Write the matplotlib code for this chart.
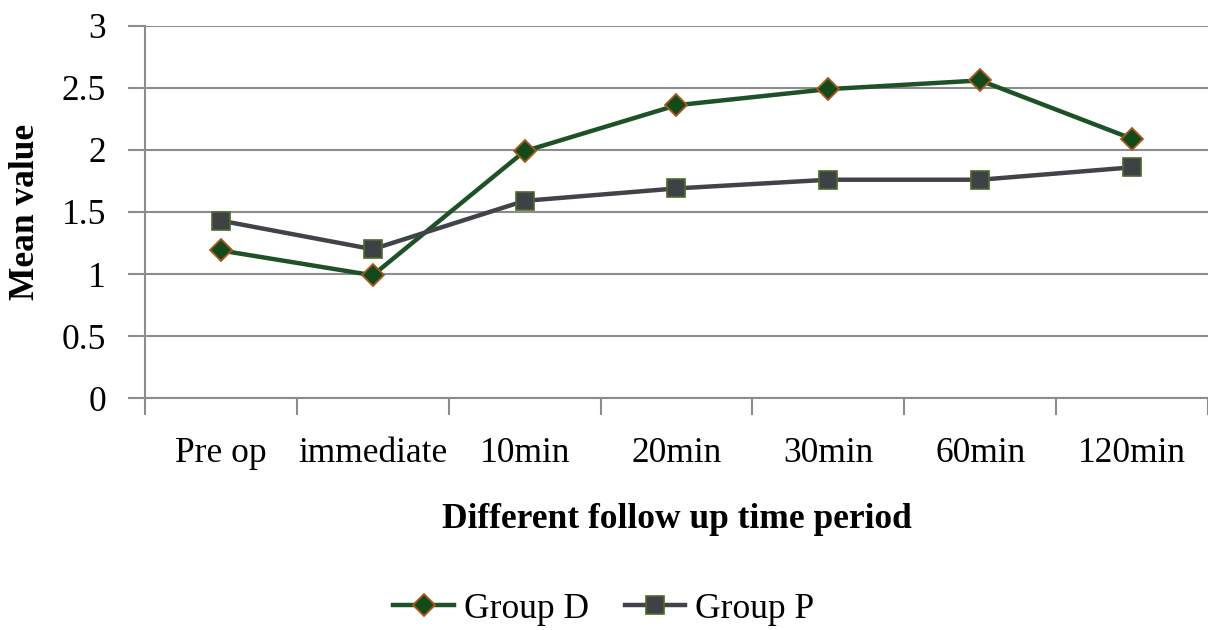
import matplotlib
matplotlib.use("Agg")
import matplotlib.pyplot as plt
from matplotlib.ticker import FixedLocator, NullFormatter

categories = ["Pre op", "immediate", "10min", "20min", "30min", "60min", "120min"]
group_d = [1.19, 0.99, 1.99, 2.36, 2.49, 2.56, 2.09]
group_p = [1.43, 1.20, 1.59, 1.69, 1.76, 1.76, 1.86]
yticks = [0, 0.5, 1, 1.5, 2, 2.5, 3]
ytick_labels = ["0", "0.5", "1", "1.5", "2", "2.5", "3"]

plt.rcParams['font.family'] = ['Liberation Serif', 'DejaVu Serif']
FS = 25.5

fig = plt.figure(figsize=(12.08, 6.30), dpi=100)
ax = fig.add_axes([0.12, 0.368, 0.880, 0.591])

x = list(range(len(categories)))
gray = "#8c8c8c"

ax.plot(x, group_d, color="#1d5226", lw=3.2, marker="D", markersize=11,
        markerfacecolor="#124a1c", markeredgecolor="#a8581c", markeredgewidth=1.3,
        label="Group D", zorder=3)
ax.plot(x, group_p, color="#404347", lw=3.2, marker="s", markersize=13,
        markerfacecolor="#3e4146", markeredgecolor="#4f6a2a", markeredgewidth=1.2,
        label="Group P", zorder=3)

ax.set_xlim(-0.5, len(categories) - 0.5)
ax.set_ylim(0, 3)
ax.set_yticks(yticks)
ax.set_yticklabels(ytick_labels, fontsize=FS)
ax.yaxis.grid(True, color=gray, lw=1.5)
ax.set_axisbelow(True)

ax.xaxis.set_major_locator(FixedLocator([i - 0.5 for i in range(len(categories) + 1)]))
ax.xaxis.set_major_formatter(NullFormatter())
ax.xaxis.set_minor_locator(FixedLocator(x))
ax.set_xticklabels(categories, minor=True, fontsize=FS)
ax.tick_params(axis='x', which='minor', length=0, pad=28)
ax.tick_params(axis='x', which='major', length=12, color=gray, width=1.5, direction='out')
ax.tick_params(axis='y', length=12, color=gray, width=1.5, direction='out', pad=16)

for s in ["top", "right"]:
    ax.spines[s].set_visible(False)
for s in ["left", "bottom"]:
    ax.spines[s].set_color(gray)
    ax.spines[s].set_linewidth(1.5)

ax.set_ylabel("Mean value", fontsize=FS, fontweight='bold', labelpad=14)
ax.set_xlabel("Different follow up time period", fontsize=FS, fontweight='bold', labelpad=24)

fig.legend(loc="center", bbox_to_anchor=(0.5, 0.033), ncol=2, frameon=False,
           fontsize=FS, handlelength=1.7, columnspacing=1.0, handletextpad=0.3)

fig.savefig("out.png", dpi=100)
